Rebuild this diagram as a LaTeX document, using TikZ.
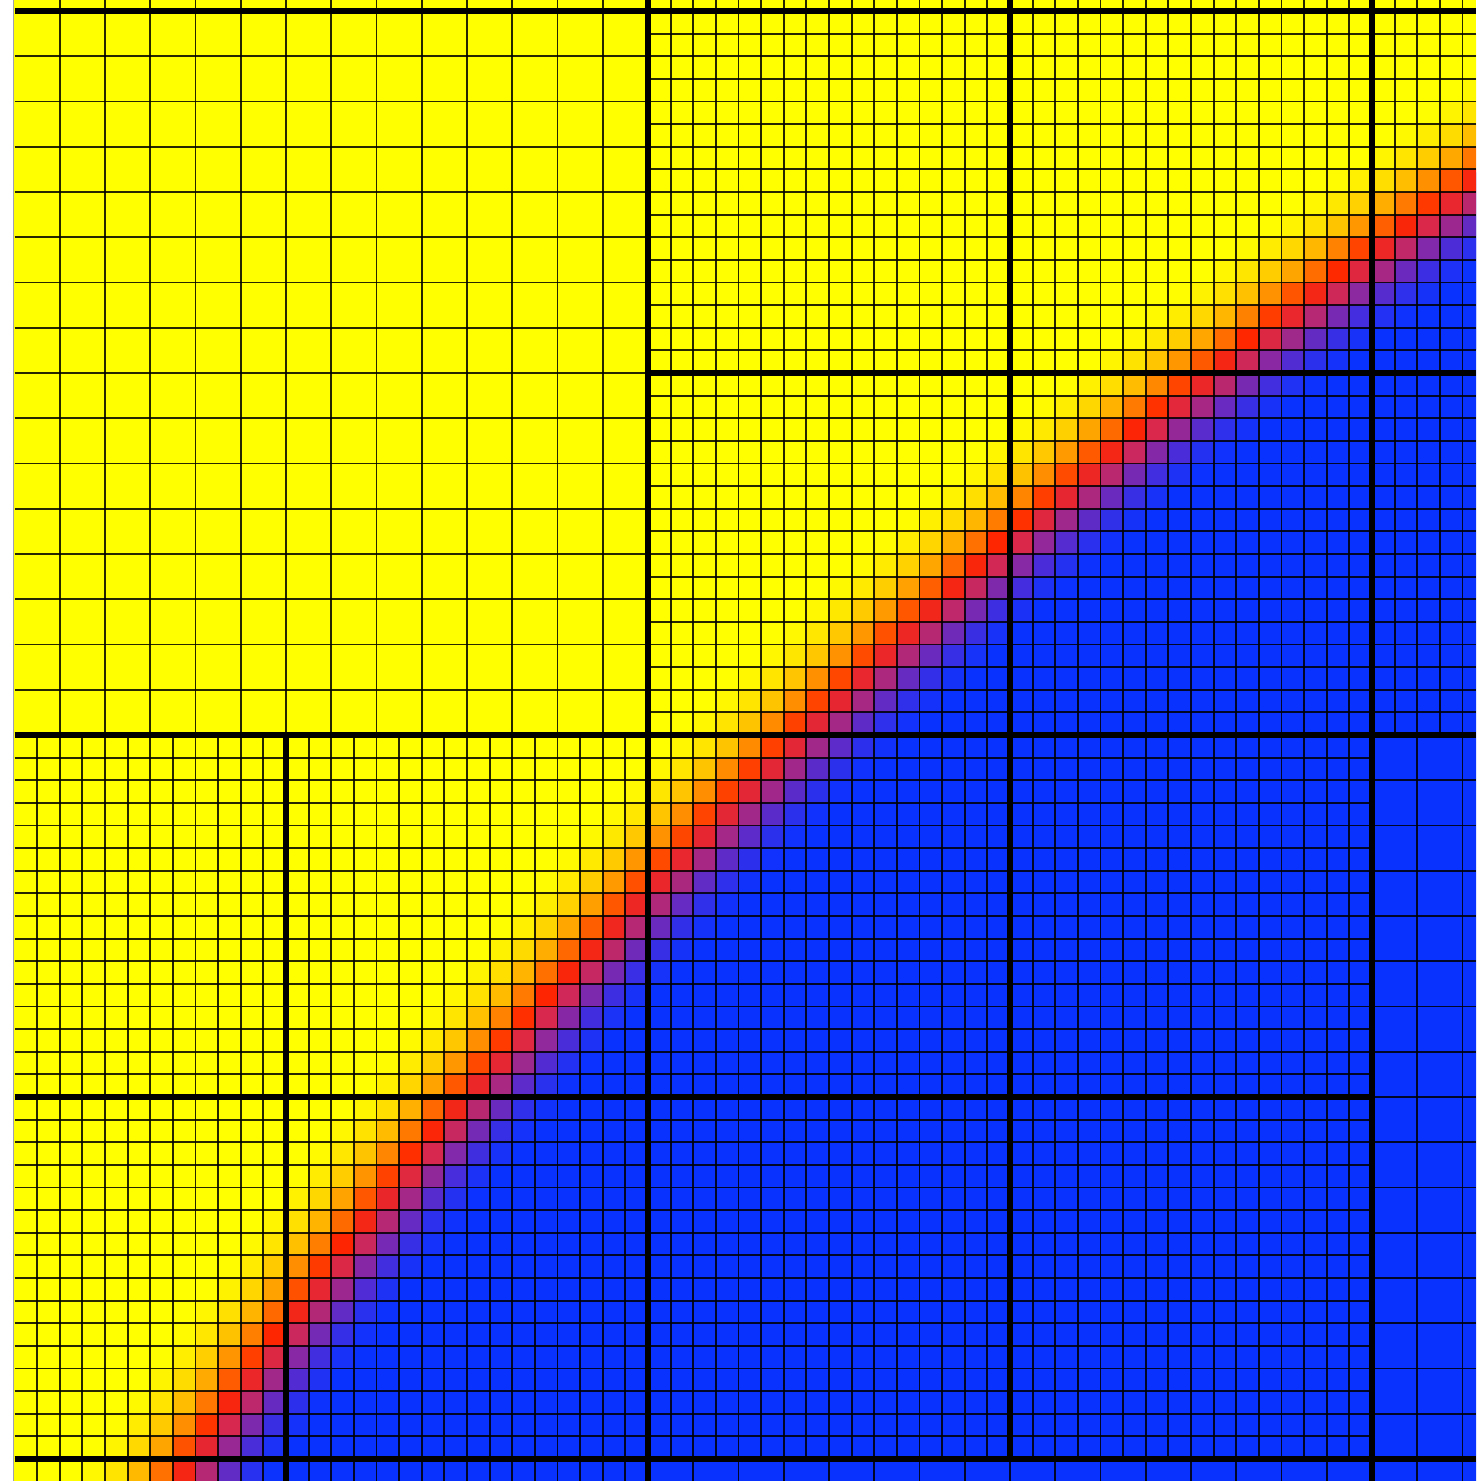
\documentclass[tikz,border=0pt]{standalone}
\usepackage{xfp}
\definecolor{a0}{RGB}{255,255,0}
\definecolor{a1}{RGB}{255,243,0}
\definecolor{a2}{RGB}{255,222,0}
\definecolor{a3}{RGB}{255,183,0}
\definecolor{a4}{RGB}{255,120,0}
\definecolor{a5}{RGB}{255,38,0}
\definecolor{a6}{RGB}{215,40,80}
\definecolor{a7}{RGB}{135,40,165}
\definecolor{a8}{RGB}{70,45,220}
\definecolor{a9}{RGB}{30,50,245}
\definecolor{a10}{RGB}{10,50,255}
\definecolor{yel}{RGB}{255,255,0}
\definecolor{blu}{RGB}{10,50,255}
\definecolor{edgegray}{RGB}{160,160,175}
\tikzset{
  finel/.style={draw=black, opacity=0.85, line width=1.9pt},
  blockl/.style={draw=black, line width=6pt},
}
\begin{document}
\begin{tikzpicture}[x=1pt,y=-1pt]
\useasboundingbox (0,0) rectangle (1476,1481);
\clip (0,0) rectangle (1476,1481);
\fill[white] (0,0) rectangle (1476,1481);
\fill[yel] (13.5,0) rectangle (1476,1481);
\begin{scope}
  \clip (13.5,0) rectangle (1476,1481);
  \fill[blu] (4162,4162) circle[radius=4809pt];
\end{scope}
% interface band, fine cells
\foreach \i in {0,...,64}{
  \edef\rowy{\fpeval{11+\i*22.625}}
  \edef\rowc{\fpeval{\rowy+11.3125}}
  \edef\xint{\fpeval{4162-sqrt(4809^2-(4162-\rowc)^2)}}
  \edef\jc{\fpeval{round((\xint-14.5)/22.625)}}
  \edef\ja{\fpeval{max(\jc-10,0)}}
  \edef\jb{\fpeval{min(\jc+10,64)}}
  \ifnum\ja>\jb\else
  \foreach \j in {\ja,...,\jb}{
    \edef\colx{\fpeval{14.5+\j*22.625}}
    \edef\skipit{\fpeval{((\colx<647)&&(\rowy<734))||((\colx>1371)&&(\rowy>734))||((\colx>647)&&(\rowy>1458))}}
    \ifnum\skipit=0
      \edef\cxx{\fpeval{\colx+11.3125}}
      \edef\dd{\fpeval{4809-sqrt((4162-\cxx)^2+(4162-\rowc)^2)}}
      \edef\uu{\fpeval{min(max((\dd+78)/16,0),9.999)}}
      \edef\ss{\fpeval{trunc(\uu)}}
      \edef\sn{\fpeval{trunc(\uu)+1}}
      \edef\pp{\fpeval{round(100*(1+\ss-\uu))}}
      \fill[a\ss!\pp!a\sn] (\colx,\rowy) rectangle ++(22.7,22.7);
    \fi
  }
  \fi
}
% fine grid lines
\foreach \j in {1,...,36} \draw[finel] (648+\j*22.625,0) -- (648+\j*22.625,735);
\foreach \i in {1,...,32} \draw[finel] (648,735-\i*22.625) -- (1476,735-\i*22.625);
\foreach \j in {1,...,31} \draw[finel] (648+\j*22.625,735) -- (648+\j*22.625,1459);
\foreach \i in {1,...,31} \draw[finel] (648,735+\i*22.625) -- (1372,735+\i*22.625);
\foreach \j in {1,...,27} \draw[finel] (648-\j*22.625,735) -- (648-\j*22.625,1481);
\foreach \i in {1,...,32} \draw[finel] (14.5,735+\i*22.625) -- (648,735+\i*22.625);
% coarse grid lines
\foreach \k in {1,...,13} \draw[finel] (648-\k*45.25,0) -- (648-\k*45.25,735);
\foreach \k in {1,...,16} \draw[finel] (14.5,735-\k*45.25) -- (648,735-\k*45.25);
\foreach \k in {1,2} \draw[finel] (1372+\k*45.25,735) -- (1372+\k*45.25,1481);
\foreach \k in {1,...,15} \draw[finel] (1372,735+\k*45.25) -- (1476,735+\k*45.25);
\foreach \k in {1,...,15} \draw[finel] (648+\k*45.25,1459) -- (648+\k*45.25,1481);
% block boundaries
\draw[blockl] (286,735) -- (286,1481);
\draw[blockl] (648,0) -- (648,1481);
\draw[blockl] (1010,0) -- (1010,1459);
\draw[blockl] (1372,0) -- (1372,1481);
\draw[blockl] (14.5,11) -- (1476,11);
\draw[blockl] (648,373) -- (1476,373);
\draw[blockl] (14.5,735) -- (1476,735);
\draw[blockl] (14.5,1097) -- (1372,1097);
\draw[blockl] (14.5,1459) -- (1476,1459);
% left edge
\draw[edgegray, line width=1.5pt] (13.5,0) -- (13.5,1481);
\end{tikzpicture}
\end{document}
